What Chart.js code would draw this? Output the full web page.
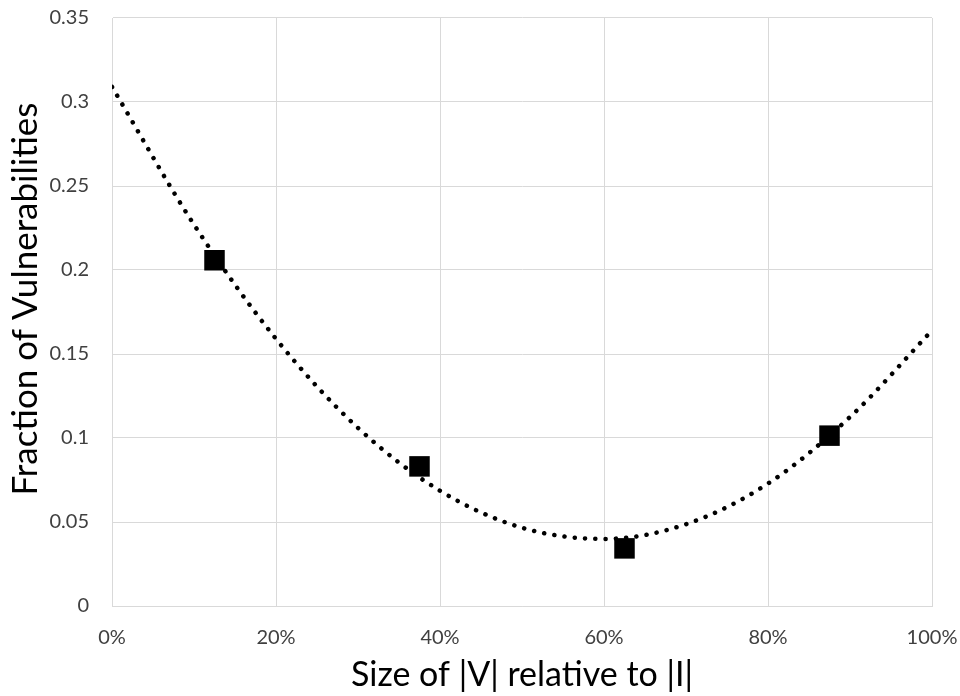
<!DOCTYPE html>
<html lang="en">
<head>
  <meta charset="UTF-8">
  <title>Fraction of Vulnerabilities</title>
  <script src="https://cdn.jsdelivr.net/npm/chart.js"></script>
  <style>
    html, body { margin: 0; padding: 0; background: #fff; }
    #wrap { width: 960px; height: 696px; }
  </style>
</head>
<body>
  <div id="wrap"><canvas id="vulnChart" width="960" height="696"></canvas></div>

  <script>
    // measured points (size of |V| relative to |I|, fraction of vulnerabilities)
    const sizeRatio = [0.125, 0.375, 0.625, 0.875];
    const fraction = [0.2058, 0.0831, 0.0343, 0.1014];

    // dotted trendline, every 10%
    const trendX = [0, 0.1, 0.2, 0.3, 0.4, 0.5, 0.6, 0.7, 0.8, 0.9, 1.0];
    const trendY = [0.309, 0.227, 0.159, 0.106, 0.0686, 0.0466, 0.0399, 0.0487, 0.0729, 0.1125, 0.164];

    // tick labels
    const xTickLabels = ['0%', '20%', '40%', '60%', '80%', '100%'];
    const yTickLabels = ['0', '0.05', '0.1', '0.15', '0.2', '0.25', '0.3', '0.35'];

    const yTitle = 'Fraction of Vulnerabilities';
    const fontFamily = "Lato, 'Open Sans', sans-serif";
    const gridColor = '#d9d9d9';

    // y title sits a bit above the middle of the plot in the original
    const yTitlePlugin = {
      id: 'yTitle',
      afterDraw(chart) {
        const { ctx, chartArea } = chart;
        const cy = chartArea.top + (chartArea.bottom - chartArea.top) * 0.478;
        ctx.save();
        ctx.translate(37, cy);
        ctx.rotate(-Math.PI / 2);
        ctx.font = `35px ${fontFamily}`;
        ctx.fillStyle = '#000';
        ctx.textAlign = 'center';
        ctx.textBaseline = 'alphabetic';
        ctx.fillText(yTitle, 0, 0);
        ctx.restore();
      }
    };

    const ctx = document.getElementById('vulnChart').getContext('2d');
    const chart = new Chart(ctx, {
      type: 'scatter',
      data: {
        datasets: [{
          label: 'Trend',
          data: trendX.map((x, i) => ({ x, y: trendY[i] })),
          showLine: true,
          borderColor: '#000',
          borderWidth: 4.5,
          borderDash: [0.1, 10.2],
          borderCapStyle: 'round',
          cubicInterpolationMode: 'monotone',
          pointRadius: 0,
          order: 2
        }, {
          label: 'Measured',
          data: sizeRatio.map((x, i) => ({ x, y: fraction[i] })),
          pointStyle: 'rect',
          pointRadius: 14.5,
          pointHoverRadius: 14.5,
          backgroundColor: '#000',
          borderWidth: 0,
          order: 1
        }]
      },
      options: {
        responsive: false,
        animation: false,
        layout: { padding: { left: 0, right: 28, top: 18, bottom: 0 } },
        plugins: { legend: { display: false }, tooltip: { enabled: false } },
        scales: {
          x: {
            type: 'linear',
            min: 0, max: 1,
            afterFit: s => { s.height = 90; s.paddingLeft = 0; s.paddingRight = 0; },
            afterBuildTicks: s => { s.ticks = xTickLabels.map((_, i) => ({ value: i * 0.2 })); },
            ticks: {
              callback: (v, i) => xTickLabels[i],
              color: '#404040',
              font: { family: fontFamily, size: 20 },
              padding: 20,
              maxRotation: 0
            },
            grid: { color: gridColor, lineWidth: 1, drawTicks: false },
            border: { color: gridColor },
            title: {
              display: true,
              text: 'Size of |V| relative to |I|',
              color: '#000',
              font: { family: fontFamily, size: 34 },
              padding: { top: 0, bottom: 1 }
            }
          },
          y: {
            type: 'linear',
            min: 0, max: 0.35,
            afterFit: s => { s.width = 112; s.paddingTop = 0; s.paddingBottom = 0; },
            afterBuildTicks: s => { s.ticks = yTickLabels.map((_, i) => ({ value: i * 0.05 })); },
            ticks: {
              callback: (v, i) => yTickLabels[i],
              color: '#404040',
              font: { family: fontFamily, size: 20 },
              padding: 23
            },
            grid: { color: gridColor, lineWidth: 1, drawTicks: false },
            border: { color: gridColor },
            title: { display: false }
          }
        }
      },
      plugins: [yTitlePlugin]
    });
  </script>
</body>
</html>
